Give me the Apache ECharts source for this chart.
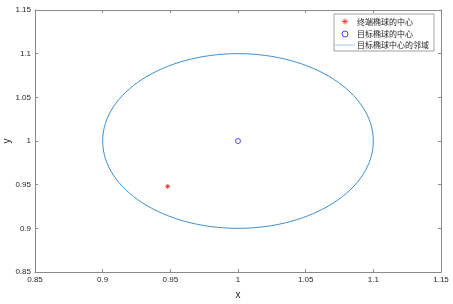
<!DOCTYPE html>
<html><head><meta charset="utf-8">
<script src="https://cdn.jsdelivr.net/npm/echarts@6/dist/echarts.min.js"></script>
<style>html,body{margin:0;padding:0;background:#fff}#c{width:453px;height:304px}</style>
</head><body><div id="c"></div>
<script>
var xTicks = [0.85, 0.9, 0.95, 1, 1.05, 1.1, 1.15];
var yTicks = [0.85, 0.9, 0.95, 1, 1.05, 1.1, 1.15];
var endCenter = [[0.948, 0.948]];
var targetCenter = [[1, 1]];
var regionRadius = [[1, 1, 0.1]]; // center x, center y, radius
var names = ['终端椭球的中心', '目标椭球的中心', '目标椭球中心的邻域'];

var star = 'path://M5,0 L5,10 M0,5 L10,5 M1.5,1.5 L8.5,8.5 M8.5,1.5 L1.5,8.5';
var font = 'Liberation Sans, Arial, sans-serif';
var cjk = 'Noto Sans CJK SC, sans-serif';
function axisBase(show) {
  return {
    type: 'value', min: 0.85, max: 1.15, interval: 0.05,
    axisLine: {show: true, onZero: false, lineStyle: {color: '#8a8a8a', width: 1}},
    axisTick: {show: true, inside: true, length: 3, lineStyle: {color: '#8a8a8a'}},
    axisLabel: {show: show, color: '#262626', fontSize: 8, fontFamily: font, margin: 4,
      formatter: function (v) { return String(parseFloat(v.toFixed(2))); }},
    splitLine: {show: false}
  };
}
var xb = axisBase(true), xt = axisBase(false), yl = axisBase(true), yr = axisBase(false);
xb.position = 'bottom'; xb.name = 'x'; xb.nameLocation = 'middle'; xb.nameGap = 18; xb.nameMoveOverlap = false;
xb.nameTextStyle = {color: '#262626', fontSize: 10, fontFamily: font};
xt.position = 'top';
yl.position = 'left'; yl.name = 'y'; yl.nameLocation = 'middle'; yl.nameGap = 23; yl.nameMoveOverlap = false;
yl.nameTextStyle = {color: '#262626', fontSize: 10, fontFamily: font};
yr.position = 'right';

var chart = echarts.init(document.getElementById('c'));
chart.setOption({
  animation: false,
  grid: {left: 35, right: 12, top: 10, bottom: 32, containLabel: false, outerBoundsMode: 'none'},
  xAxis: [xb, xt],
  yAxis: [yl, yr],
  legend: {
    orient: 'vertical', right: 19, top: 14, itemGap: 3, itemWidth: 20, itemHeight: 6,
    padding: [2, 5, 2, 1], borderColor: '#8a8a8a', borderWidth: 0.8, backgroundColor: '#fff',
    textStyle: {fontSize: 8, fontFamily: cjk, color: '#262626', padding: [0, 0, 0, -3]},
    data: [
      {name: names[0], icon: star, itemStyle: {color: 'none', borderColor: '#ff2020', borderWidth: 1}},
      {name: names[1], icon: 'circle', itemStyle: {color: '#fff', borderColor: '#1010ff', borderWidth: 1}},
      {name: names[2], icon: 'path://M0,0 L40,0 L40,1 L0,1 Z'}
    ]
  },
  series: [
    {
      name: names[0], type: 'scatter', xAxisIndex: 0, yAxisIndex: 0,
      data: endCenter, symbol: star, symbolSize: 5,
      itemStyle: {color: 'none', borderColor: '#ff2020', borderWidth: 1}
    },
    {
      name: names[1], type: 'scatter', xAxisIndex: 0, yAxisIndex: 0, z: 5,
      data: targetCenter, symbol: 'circle', symbolSize: 5,
      itemStyle: {color: '#fff', borderColor: '#1010ff', borderWidth: 0.9}
    },
    {
      name: names[2], type: 'custom', xAxisIndex: 0, yAxisIndex: 0,
      data: regionRadius, itemStyle: {color: '#3d8fd0'},
      renderItem: function (params, api) {
        var c = api.coord([api.value(0), api.value(1)]);
        var s = api.size([api.value(2), api.value(2)]);
        return {
          type: 'ellipse',
          shape: {cx: c[0], cy: c[1], rx: s[0], ry: s[1]},
          style: {fill: 'none', stroke: '#3d8fd0', lineWidth: 1}
        };
      }
    }
  ]
});
</script></body></html>
